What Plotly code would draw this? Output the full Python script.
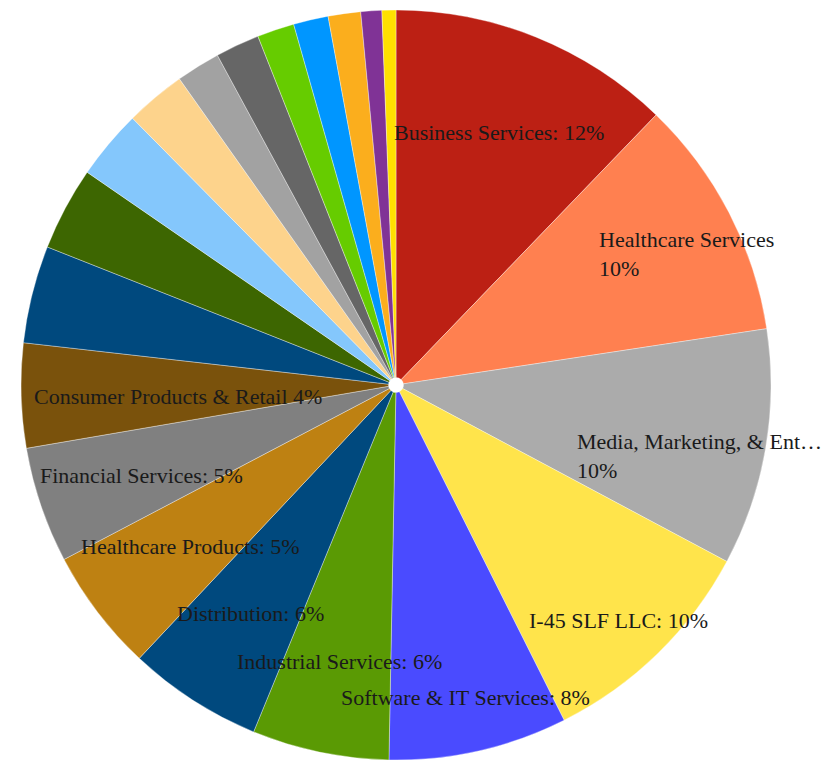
import plotly.graph_objects as go

W, H = 837, 761
OFF = 8  # page body margin in the browser

sectors = [
    'Business Services', 'Healthcare Services', 'Media, Marketing, & Entertainment',
    'I-45 SLF LLC', 'Software & IT Services', 'Industrial Services', 'Distribution',
    'Healthcare Products', 'Financial Services', 'Consumer Products & Retail',
    'Other 11', 'Other 12', 'Other 13', 'Other 14', 'Other 15', 'Other 16',
    'Other 17', 'Other 18', 'Other 19', 'Other 20', 'Other 21',
]
shares = [12.2, 10.4, 10.2, 9.8, 7.7, 5.9, 5.8, 5.3, 5.0, 4.5,
          4.2, 3.6, 3.0, 2.6, 1.9, 1.9, 1.6, 1.5, 1.4, 0.9, 0.6]
colors = ['#BC2014', '#FF8050', '#ABABAB', '#FFE44B', '#4A4BFF', '#5A9A04', '#00497E',
          '#BE8112', '#808080', '#7A520C', '#00497E', '#3D6601', '#84C7FC', '#FDD38C',
          '#A2A2A2', '#666666', '#66CC00', '#0096FF', '#FBAE1D', '#803396', '#FFE000']

label_texts = [
    'Business Services: 12%', 'Healthcare Services<br>10%',
    'Media, Marketing, & Ent…<br>10%', 'I-45 SLF LLC: 10%',
    'Software & IT Services: 8%', 'Industrial Services: 6%', 'Distribution: 6%',
    'Healthcare Products: 5%', 'Financial Services: 5%', 'Consumer Products & Retail 4%',
]
# label left edge / vertical middle in screen pixels
label_pos = [(395, 133), (600, 254), (578, 456), (530, 620), (342, 697),
             (238, 661), (178, 613), (82, 546), (41, 475), (35, 397)]

cx, cy, R = 396 - OFF, 385 - OFF, 375

fig = go.Figure(go.Pie(
    labels=sectors,
    values=shares,
    sort=False,
    direction='clockwise',
    rotation=0,
    hole=0.02,
    textinfo='none',
    marker=dict(colors=colors, line=dict(color='rgba(255,255,255,0.6)', width=0.6)),
    domain=dict(x=[(cx - R) / W, (cx + R) / W], y=[(H - cy - R) / H, (H - cy + R) / H]),
    showlegend=False,
))

for txt, (px, py) in zip(label_texts, label_pos):
    fig.add_annotation(
        x=(px - OFF - 3) / W, y=1 - (py - OFF) / H, xref='paper', yref='paper',
        xanchor='left', yanchor='middle', align='left',
        text=txt, showarrow=False,
        font=dict(family='Liberation Serif', size=22, color='#1a1a1a'),
    )

fig.update_layout(
    width=W, height=H,
    margin=dict(l=0, r=0, t=0, b=0),
    paper_bgcolor='white', plot_bgcolor='white',
)

fig.write_html("out.html")
